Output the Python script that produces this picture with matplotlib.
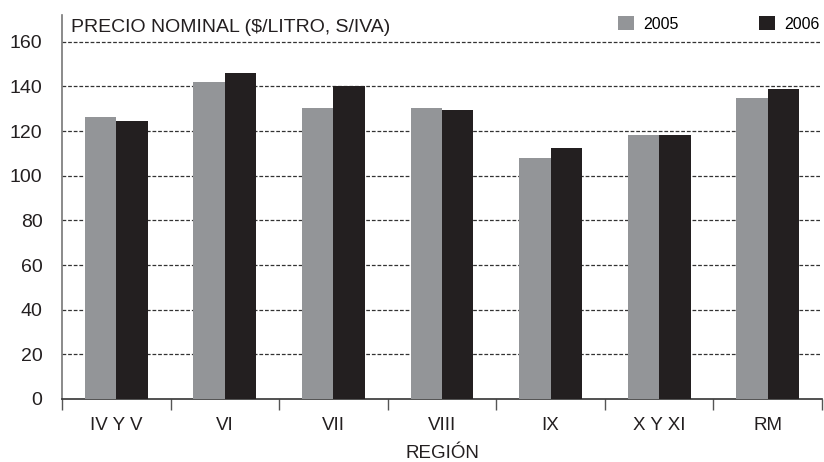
import matplotlib
matplotlib.use("Agg")
import matplotlib.pyplot as plt
import numpy as np

# precio nominal por region, 2005 vs 2006
regiones = ["IV Y V", "VI", "VII", "VIII", "IX", "X Y XI", "RM"]
precio_2005 = [126.4, 142.2, 130.4, 130.4, 108.0, 118.3, 134.9]
precio_2006 = [124.6, 146.1, 140.0, 129.5, 112.5, 118.3, 138.9]
y_ticks = [0, 20, 40, 60, 80, 100, 120, 140, 160]

plt.rcParams['font.family'] = ['Liberation Sans', 'DejaVu Sans']

gris = '#939598'
negro = '#231f20'

fig = plt.figure(figsize=(8.24, 4.62), dpi=100)
ax = fig.add_axes([0.0752, 0.1364, 0.9224, 0.8311])

x = np.arange(len(regiones))
w = 0.29
ax.bar(x - w / 2, precio_2005, width=w, color=gris, label='2005', zorder=3)
ax.bar(x + w / 2, precio_2006, width=w, color=negro, label='2006', zorder=3)

ax.set_xlim(-0.5, len(regiones) - 0.5)
ax.set_ylim(0, 172)

#grilla punteada
for t in y_ticks[1:]:
    ax.axhline(t, xmax=0.997, color='#333333', linestyle=(0, (3, 1.5)), linewidth=0.9, zorder=1)

ax.set_yticks(y_ticks)
ax.set_yticklabels([str(t) for t in y_ticks], fontsize=14, color='#231f20')
ax.tick_params(axis='y', length=0, pad=14)

ax.set_xticks(x)
ax.set_xticklabels(regiones, fontsize=13.5, color='#231f20')
ax.set_xticks(np.arange(len(regiones) + 1) - 0.5, minor=True)
ax.tick_params(axis='x', which='major', length=0, pad=13)
ax.tick_params(axis='x', which='minor', length=8, width=1, color='#555555', direction='out')

for s in ['top', 'right']:
    ax.spines[s].set_visible(False)
ax.spines['left'].set_color('#777777')
ax.spines['left'].set_linewidth(1.2)
ax.spines['bottom'].set_color('#333333')
ax.spines['bottom'].set_linewidth(1.2)

ax.set_xlabel('REGIÓN', fontsize=13.5, color='#231f20', labelpad=8)

ax.text(0.012, 0.99, 'PRECIO NOMINAL (\\$/LITRO, S/IVA)', transform=ax.transAxes,
        fontsize=14, color='#231f20', va='top', ha='left')

leg = ax.legend(loc='upper right', ncol=2, frameon=False, fontsize=11.5,
                handlelength=1.0, handleheight=1.0, columnspacing=5.0,
                handletextpad=0.6, bbox_to_anchor=(1.016, 1.035))

fig.savefig('out.png', dpi=100)
